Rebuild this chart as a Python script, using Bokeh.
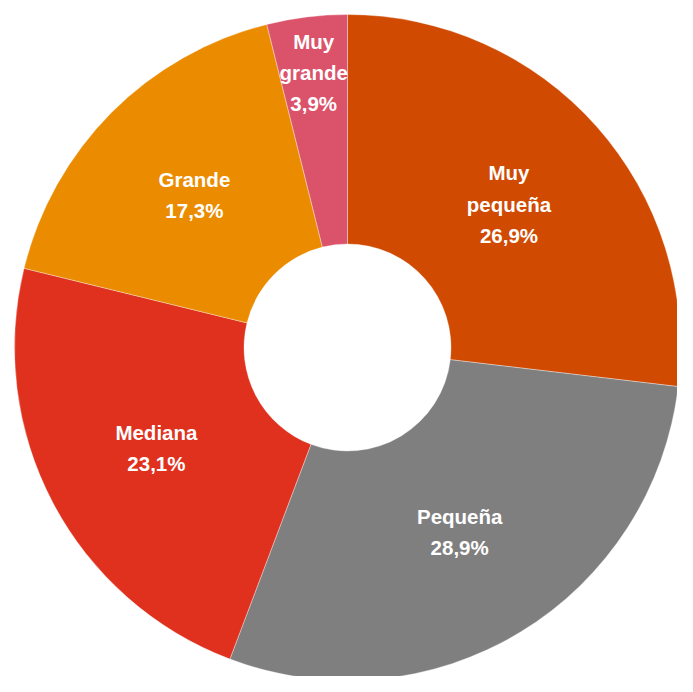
import math
from bokeh.plotting import figure
from bokeh.models import Range1d, ColumnDataSource
from bokeh.core.properties import value
from bokeh.embed import file_html
from bokeh.resources import INLINE

# ---- data ----
categories = ["Muy pequeña", "Pequeña", "Mediana", "Grande", "Muy grande"]
label_names = ["Muy\npequeña", "Pequeña", "Mediana", "Grande", "Muy\ngrande"]
shares = [26.9, 28.9, 23.1, 17.3, 3.9]
pct_labels = ["26,9%", "28,9%", "23,1%", "17,3%", "3,9%"]
colors = ["#D04A02", "#7F7F7F", "#E0301E", "#EB8C00", "#DB536A"]

W, H = 677, 676
cx, cy = 347, H - 347
R_OUT, R_IN = 333, 103.5

total = sum(shares)
starts, ends, lx, ly, texts = [], [], [], [], []
cum = 0.0
for name, s, pl in zip(label_names, shares, pct_labels):
    a0 = math.pi / 2 - 2 * math.pi * cum / total
    cum += s
    a1 = math.pi / 2 - 2 * math.pi * cum / total
    starts.append(a0)
    ends.append(a1)
    mid = (a0 + a1) / 2
    frac = s / total
    r = 277 if frac < 0.05 else 216
    lx.append(cx + r * math.cos(mid))
    ly.append(cy + r * math.sin(mid))
    texts.append(name + "\n" + pl)

src = ColumnDataSource(dict(cat=categories, start=starts, end=ends, color=colors))
lsrc = ColumnDataSource(dict(x=lx, y=ly, t=texts))

p = figure(width=W, height=H, output_backend="svg", toolbar_location=None,
           x_range=Range1d(0, W), y_range=Range1d(0, H), min_border=0)
p.axis.visible = False
p.grid.visible = False
p.outline_line_color = None
p.background_fill_color = "white"
p.border_fill_color = "white"

p.annular_wedge(x=cx, y=cy, inner_radius=R_IN, outer_radius=R_OUT,
                start_angle="start", end_angle="end", direction="clock",
                fill_color="color", line_color="white", line_alpha=0.35,
                line_width=1, source=src)

p.text(x="x", y="y", text="t", source=lsrc, text_color="white",
       text_font=value("Liberation Sans"), text_font_style="bold",
       text_font_size="20.5px", text_align="center", text_baseline="middle",
       text_line_height=1.35)

open("out.html", "w").write(file_html(p, INLINE))
